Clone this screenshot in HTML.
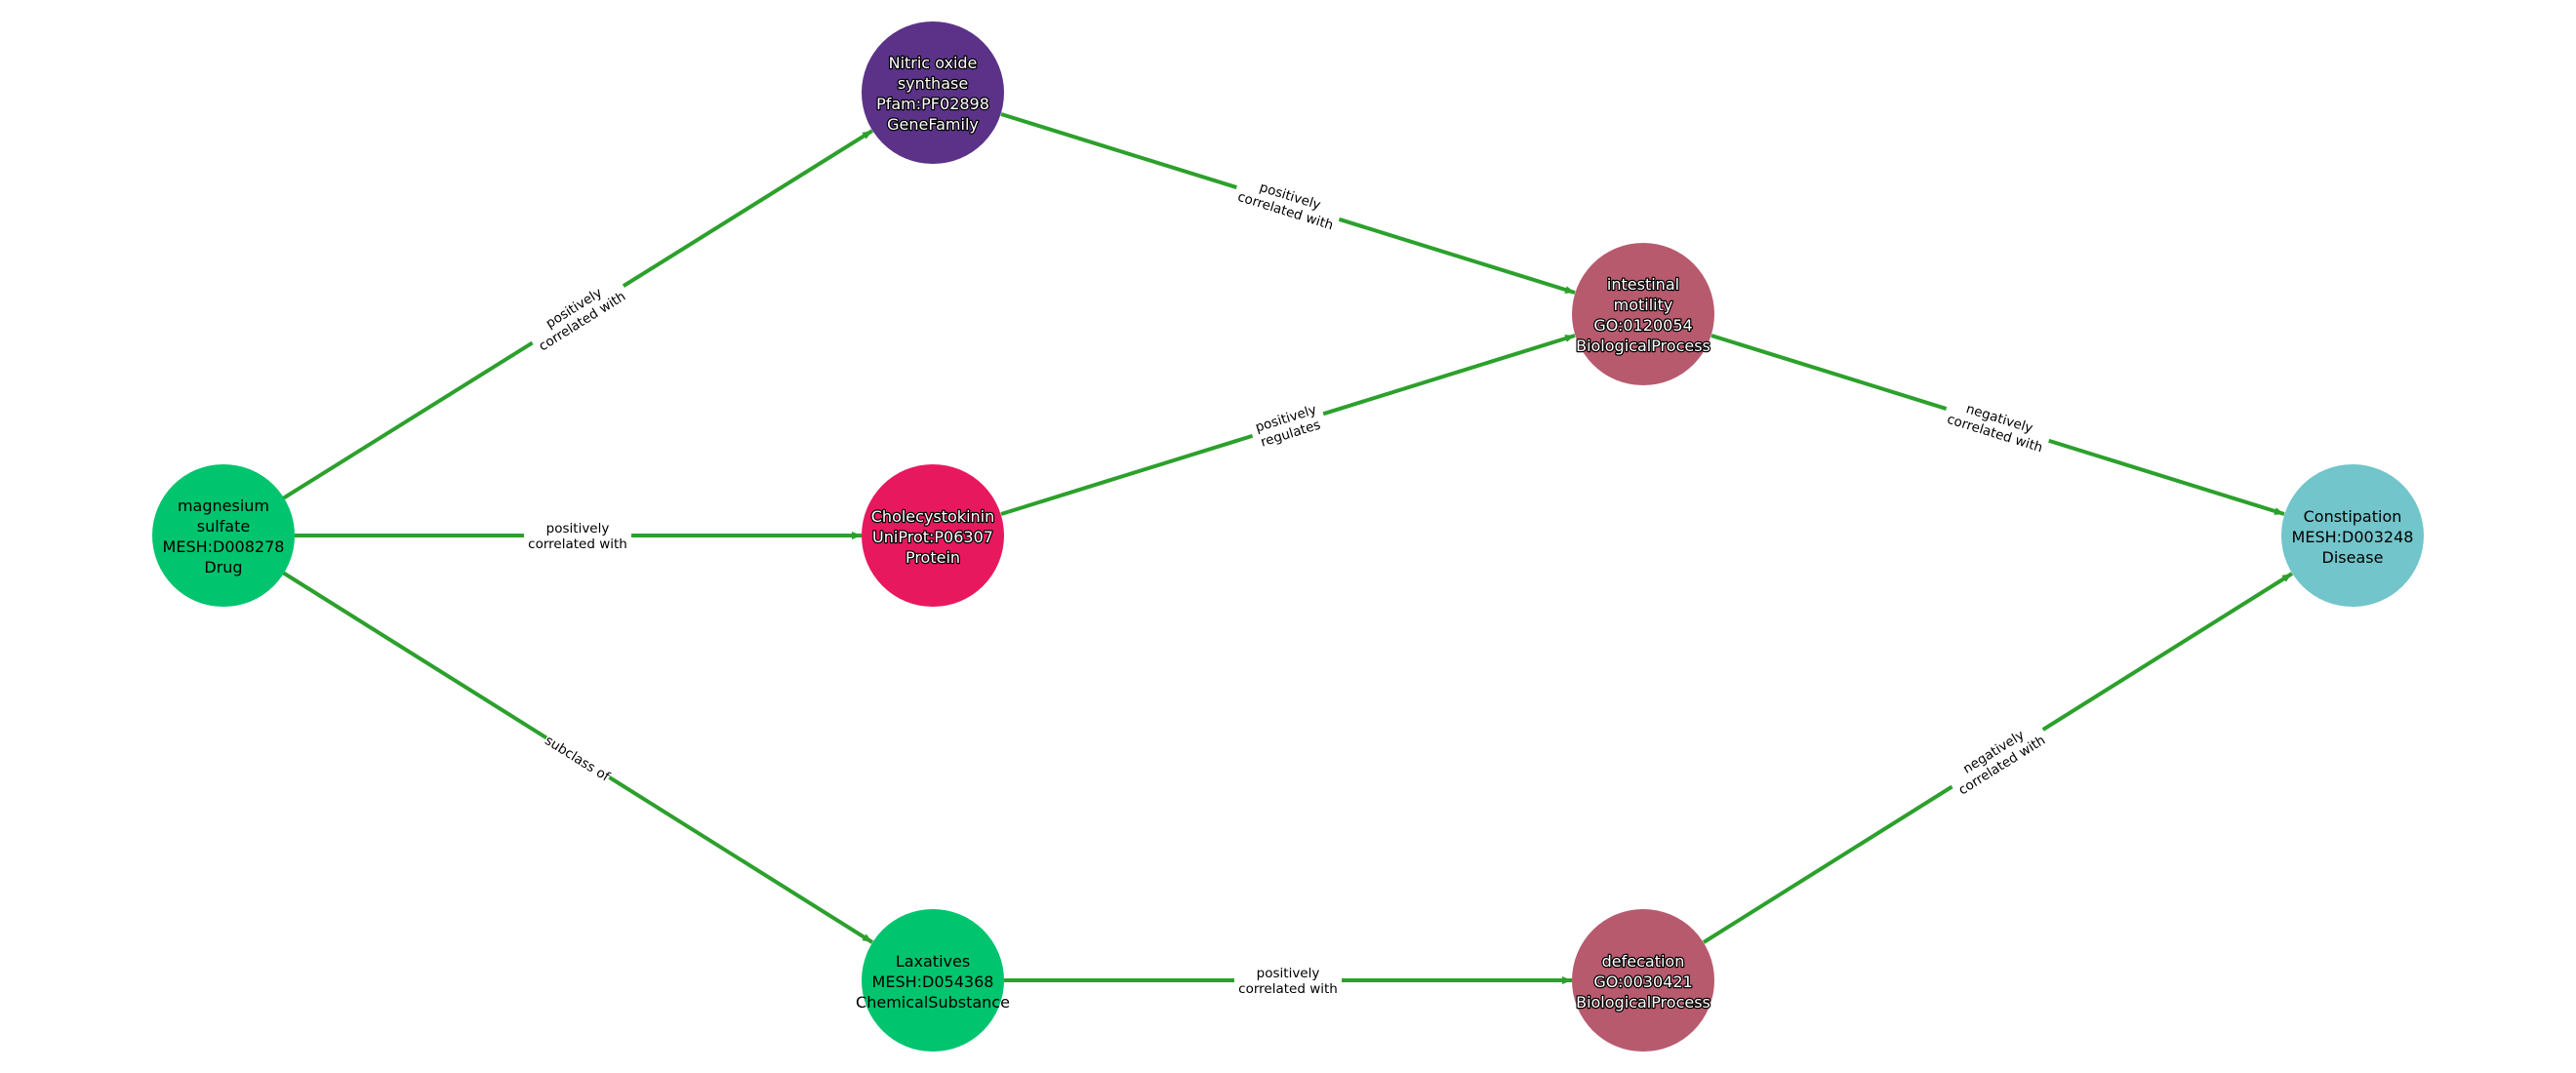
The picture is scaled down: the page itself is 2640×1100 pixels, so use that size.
<!DOCTYPE html>
<html><head><meta charset="utf-8"><style>
html,body{margin:0;padding:0;background:#fff;}
svg{display:block;font-family:"DejaVu Sans","Liberation Sans",sans-serif;}
.nl{font-size:16px;text-anchor:middle;}
.w{fill:#fff;stroke:#000;stroke-width:2.5px;paint-order:stroke;stroke-linejoin:round;}
.b{fill:#000;}
.el{font-size:13.5px;text-anchor:middle;fill:#000;}
</style></head><body>
<svg width="2640" height="1100" viewBox="0 0 2640 1100" xmlns="http://www.w3.org/2000/svg">
<defs>
<marker id="a" viewBox="0 0 10 8" refX="10" refY="4" markerWidth="10" markerHeight="8" markerUnits="userSpaceOnUse" orient="auto">
<path d="M0,0 L10,4 L0,8 z" fill="#2ca02c"/>
</marker>
</defs>
<g stroke="#2ca02c" stroke-width="4" fill="none" marker-end="url(#a)">
<line x1="290" y1="511" x2="894" y2="134"/>
<line x1="302" y1="549" x2="883" y2="549"/>
<line x1="290" y1="587" x2="894" y2="966"/>
<line x1="1026" y1="117" x2="1614" y2="300"/>
<line x1="1026" y1="527" x2="1614" y2="344"/>
<line x1="1029" y1="1005" x2="1611" y2="1005"/>
<line x1="1754" y1="344" x2="2341" y2="527"/>
<line x1="1746" y1="966" x2="2349" y2="588"/>
</g>
<g>
<g transform="translate(592,322) rotate(-32)"><rect x="-55" y="-17" width="110" height="34" fill="#fff"/><text class="el" y="-3">positively</text><text class="el" y="13">correlated with</text></g>
<g transform="translate(592,549)"><rect x="-55" y="-17" width="110" height="34" fill="#fff"/><text class="el" y="-3">positively</text><text class="el" y="13">correlated with</text></g>
<g transform="translate(592,777) rotate(32)"><rect x="-38" y="-10" width="76" height="20" fill="#fff"/><text class="el" y="5">subclass of</text></g>
<g transform="translate(1320,208) rotate(17.3)"><rect x="-55" y="-17" width="110" height="34" fill="#fff"/><text class="el" y="-3">positively</text><text class="el" y="13">correlated with</text></g>
<g transform="translate(1320,436) rotate(-17.3)"><rect x="-38" y="-17" width="76" height="34" fill="#fff"/><text class="el" y="-3">positively</text><text class="el" y="13">regulates</text></g>
<g transform="translate(1320,1005)"><rect x="-55" y="-17" width="110" height="34" fill="#fff"/><text class="el" y="-3">positively</text><text class="el" y="13">correlated with</text></g>
<g transform="translate(2047,436) rotate(17.3)"><rect x="-55" y="-17" width="110" height="34" fill="#fff"/><text class="el" y="-3">negatively</text><text class="el" y="13">correlated with</text></g>
<g transform="translate(2047,777) rotate(-32)"><rect x="-55" y="-17" width="110" height="34" fill="#fff"/><text class="el" y="-3">negatively</text><text class="el" y="13">correlated with</text></g>
</g>
<circle cx="229" cy="549" r="73" fill="#00c46e"/>
<circle cx="956" cy="95" r="73" fill="#5b3288"/>
<circle cx="956" cy="549" r="73" fill="#e8185f"/>
<circle cx="956" cy="1005" r="73" fill="#00c46e"/>
<circle cx="1684" cy="322" r="73" fill="#b85a6e"/>
<circle cx="1684" cy="1005" r="73" fill="#b85a6e"/>
<circle cx="2411" cy="549" r="73" fill="#72c5ca"/>
<g class="nl b">
<text x="229" y="524">magnesium</text><text x="229" y="545">sulfate</text><text x="229" y="566">MESH:D008278</text><text x="229" y="587">Drug</text>
<text x="956" y="991">Laxatives</text><text x="956" y="1012">MESH:D054368</text><text x="956" y="1033">ChemicalSubstance</text>
<text x="2411" y="535">Constipation</text><text x="2411" y="556">MESH:D003248</text><text x="2411" y="577">Disease</text>
</g>
<g class="nl w">
<text x="956" y="70">Nitric oxide</text><text x="956" y="91">synthase</text><text x="956" y="112">Pfam:PF02898</text><text x="956" y="133">GeneFamily</text>
<text x="956" y="535">Cholecystokinin</text><text x="956" y="556">UniProt:P06307</text><text x="956" y="577">Protein</text>
<text x="1684" y="297">intestinal</text><text x="1684" y="318">motility</text><text x="1684" y="339">GO:0120054</text><text x="1684" y="360">BiologicalProcess</text>
<text x="1684" y="991">defecation</text><text x="1684" y="1012">GO:0030421</text><text x="1684" y="1033">BiologicalProcess</text>
</g>
</svg>
</body></html>
